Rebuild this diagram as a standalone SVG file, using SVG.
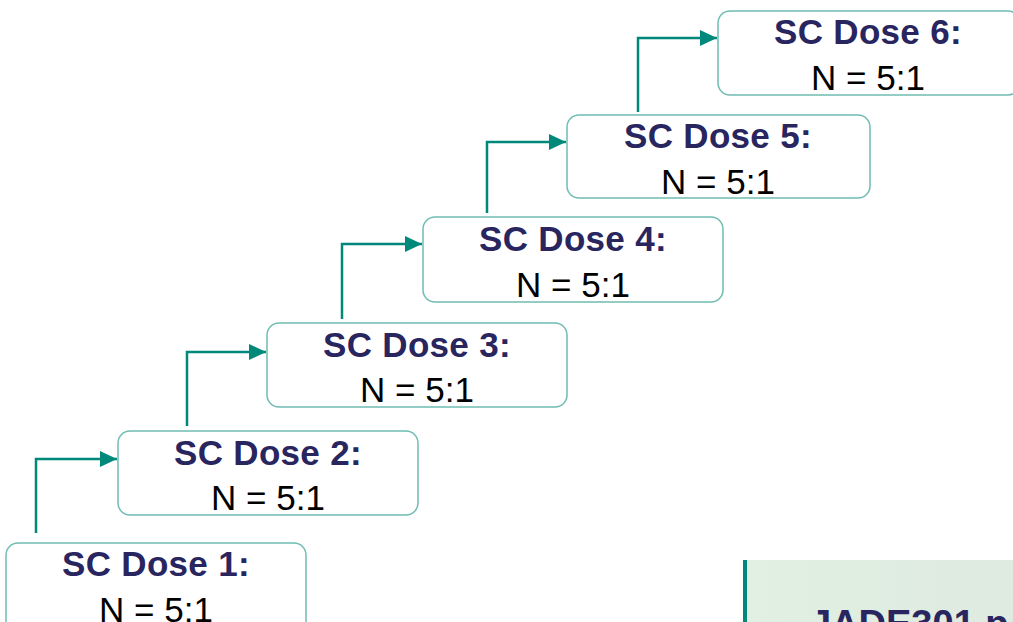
<svg xmlns="http://www.w3.org/2000/svg" width="1013" height="622" viewBox="0 0 1013 622">
<style>
.box{fill:#fff;stroke:#6fbdb2;stroke-width:1.5}
.t{font-family:"Liberation Sans",Arial,sans-serif;font-weight:bold;font-size:35px;fill:#28255f;text-anchor:middle;letter-spacing:0.3px}
.n{font-family:"Liberation Sans",Arial,sans-serif;font-size:35px;fill:#000;text-anchor:middle}
.c{fill:none;stroke:#00897a;stroke-width:2.5}
</style>
<defs>
<marker id="ah" markerWidth="17" markerHeight="16" refX="17" refY="8" orient="auto" markerUnits="userSpaceOnUse">
<path d="M0,0 L17,8 L0,16 Z" fill="#00897a"/>
</marker>
<linearGradient id="pg" x1="0" y1="0" x2="1" y2="0">
<stop offset="0" stop-color="#e1f0e2"/>
<stop offset="1" stop-color="#dfeae0"/>
</linearGradient>
</defs>
<g id="panel">
<rect x="743" y="560" width="280" height="70" fill="url(#pg)"/>
<rect x="743" y="560" width="4" height="70" fill="#00897a"/>
<text x="810" y="637" font-family="Liberation Sans,Arial,sans-serif" font-weight="bold" font-size="38" fill="#28255f">JADE301 p</text>
</g>
<g id="connectors">
<path class="c" d="M36,533 V459 H117" marker-end="url(#ah)"/>
<path class="c" d="M187,426 V352 H266" marker-end="url(#ah)"/>
<path class="c" d="M342,319 V244 H422" marker-end="url(#ah)"/>
<path class="c" d="M487,213 V142 H566" marker-end="url(#ah)"/>
<path class="c" d="M638,112 V38 H717" marker-end="url(#ah)"/>
</g>
<g id="dose1">
<rect class="box" x="6" y="543" width="300" height="90" rx="12"/>
<text class="t" x="156" y="576">SC Dose 1:</text>
<text class="n" x="156" y="622">N = 5:1</text>
</g>
<g id="dose2">
<rect class="box" x="118" y="431" width="300" height="84" rx="12"/>
<text class="t" x="268" y="465">SC Dose 2:</text>
<text class="n" x="268" y="510">N = 5:1</text>
</g>
<g id="dose3">
<rect class="box" x="267" y="323" width="300" height="84" rx="12"/>
<text class="t" x="417" y="357">SC Dose 3:</text>
<text class="n" x="417" y="402">N = 5:1</text>
</g>
<g id="dose4">
<rect class="box" x="423" y="217" width="300" height="85" rx="12"/>
<text class="t" x="573" y="251">SC Dose 4:</text>
<text class="n" x="573" y="297">N = 5:1</text>
</g>
<g id="dose5">
<rect class="box" x="567" y="115" width="303" height="83" rx="12"/>
<text class="t" x="718" y="148">SC Dose 5:</text>
<text class="n" x="718" y="194">N = 5:1</text>
</g>
<g id="dose6">
<rect class="box" x="718" y="11" width="302" height="84" rx="12"/>
<text class="t" x="868" y="44">SC Dose 6:</text>
<text class="n" x="868" y="90">N = 5:1</text>
</g>
</svg>
